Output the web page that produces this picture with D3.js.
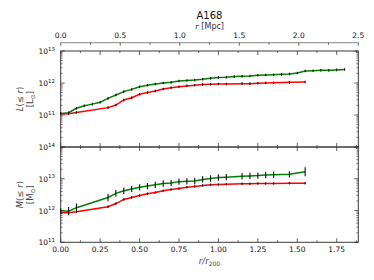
<!DOCTYPE html>
<html>
<head>
<meta charset="utf-8">
<script src="https://cdn.jsdelivr.net/npm/d3@7"></script>
<style>
  body { margin: 0; background: #fff; }
  text { font-family: "DejaVu Sans", sans-serif; }
</style>
</head>
<body>
<div id="chart"></div>
<script>
// radii (r / r200) of the profile points
const rGreenTop = [0, 0.05, 0.1, 0.15, 0.2, 0.25, 0.3, 0.35, 0.4, 0.45, 0.5, 0.55, 0.6, 0.65, 0.7, 0.75, 0.8, 0.85,
    0.9, 0.95, 1.0, 1.05, 1.1, 1.15, 1.2, 1.25, 1.3, 1.35, 1.4, 1.45, 1.5, 1.55, 1.6, 1.65, 1.7, 1.75, 1.8]
const rShort = [0, 0.05, 0.1, 0.3, 0.35, 0.4, 0.45, 0.5, 0.55, 0.6, 0.65, 0.7, 0.75, 0.8, 0.85, 0.9, 0.95, 1.0,
    1.05, 1.15, 1.2, 1.25, 1.3, 1.35, 1.45, 1.55]

// log10 L(<= r) [Lsun]
const greenLumLog = [11.05, 11.07, 11.21, 11.29, 11.34, 11.40, 11.52, 11.625, 11.73, 11.80, 11.88, 11.93, 11.97,
    12.00, 12.02, 12.06, 12.08, 12.09, 12.115, 12.147, 12.17, 12.18, 12.20, 12.21, 12.22, 12.24, 12.25, 12.26,
    12.27, 12.28, 12.31, 12.375, 12.385, 12.395, 12.395, 12.41, 12.42]
const redLumLog = [11.03, 11.04, 11.08, 11.23, 11.31, 11.47, 11.54, 11.65, 11.70, 11.75, 11.81, 11.85, 11.885,
    11.91, 11.93, 11.95, 11.96, 11.97, 11.97, 11.98, 11.98, 11.99, 12.0, 12.01, 12.02, 12.03]

// log10 M(<= r) [Msun]
const greenMassLog = [11.99, 11.98, 12.09, 12.41, 12.54, 12.62, 12.68, 12.73, 12.77, 12.81, 12.85, 12.87, 12.91,
    12.92, 12.93, 12.98, 13.01, 13.04, 13.05, 13.08, 13.09, 13.10, 13.12, 13.13, 13.14, 13.22]
const redMassLog = [11.93, 11.93, 11.96, 12.12, 12.22, 12.35, 12.41, 12.47, 12.53, 12.57, 12.62, 12.66, 12.69,
    12.73, 12.76, 12.79, 12.81, 12.82, 12.83, 12.84, 12.84, 12.85, 12.85, 12.85, 12.86, 12.86]

// errors in dex
const greenMassErr = [0.08, 0.13, 0.13, 0.12, 0.11, 0.1, 0.1, 0.1, 0.1, 0.1, 0.1, 0.1, 0.1, 0.1, 0.1, 0.1, 0.1,
    0.1, 0.1, 0.1, 0.1, 0.1, 0.1, 0.1, 0.1, 0.14]
const redMassErr = 0.04
const lumErr = 0.04

const xTicks = [0, 0.25, 0.5, 0.75, 1.0, 1.25, 1.5, 1.75]
const mpcTicks = [0, 0.5, 1.0, 1.5, 2.0, 2.5]
const lumTicks = [11, 12, 13]
const massTicks = [11, 12, 13, 14]

const width = 374, height = 280
const left = 60.7, right = 358.3
const topY0 = 51, topY1 = 147, botY0 = 147, botY1 = 242.3

const svg = d3.select("#chart").append("svg")
    .attr("width", width)
    .attr("height", height)

const x = d3.scaleLinear().domain([0, 1.887]).range([left, right])
const xMpc = d3.scaleLinear().domain([0, 2.5]).range([left, right])
const yLum = d3.scaleLinear().domain([10, 13]).range([topY1, topY0])
const yMass = d3.scaleLinear().domain([11, 14]).range([botY1, botY0])

const axisColor = "#3a3a3a"

function panelFrame(y, y0, y1, majors, showTop) {
    const g = svg.append("g")
    // y ticks, log minor
    for (let dec = y.domain()[0]; dec <= y.domain()[1]; dec++) {
        const yy = y(dec)
        ;[[left, 1], [right, -1]].forEach(([sx, dir]) => {
            g.append("line").attr("x1", sx).attr("x2", sx + dir * 4)
                .attr("y1", yy).attr("y2", yy).attr("stroke", axisColor).attr("stroke-width", 0.8)
        })
        if (dec < y.domain()[1]) {
            for (let m = 2; m <= 9; m++) {
                const ym = y(dec + Math.log10(m))
                ;[[left, 1], [right, -1]].forEach(([sx, dir]) => {
                    g.append("line").attr("x1", sx).attr("x2", sx + dir * 2)
                        .attr("y1", ym).attr("y2", ym).attr("stroke", axisColor).attr("stroke-width", 0.6)
                })
            }
        }
    }
    // x ticks, inward on both spines
    d3.range(0, 1.88, 0.125).forEach((v, i) => {
        const len = i % 2 === 0 ? 4 : 2
        const xx = x(v)
        g.append("line").attr("x1", xx).attr("x2", xx).attr("y1", y1).attr("y2", y1 - len)
            .attr("stroke", axisColor).attr("stroke-width", 0.8)
        g.append("line").attr("x1", xx).attr("x2", xx).attr("y1", y0).attr("y2", y0 + len)
            .attr("stroke", axisColor).attr("stroke-width", 0.8)
    })
    g.append("rect").attr("x", left).attr("y", y0).attr("width", right - left).attr("height", y1 - y0)
        .attr("fill", "none").attr("stroke", axisColor).attr("stroke-width", 1)
    // y tick labels
    majors.forEach(d => {
        if (d === y.domain()[1] && !showTop) return
        const t = g.append("text").attr("x", 55).attr("y", y(d) + 3)
            .attr("text-anchor", "end").attr("font-size", 7.5).attr("fill", "#111")
        t.append("tspan").text("10")
        t.append("tspan").attr("dy", -3.5).attr("font-size", 5.5).text(d)
    })
}

panelFrame(yLum, topY0, topY1, lumTicks, true)
panelFrame(yMass, botY0, botY1, massTicks, true)

// bottom x labels
svg.append("g").selectAll("text").data(xTicks).enter().append("text")
    .attr("x", d => x(d)).attr("y", 252)
    .attr("text-anchor", "middle").attr("font-size", 7.5).attr("fill", "#111")
    .text(d => d.toFixed(2))

// top Mpc axis
const topAxis = svg.append("g")
topAxis.append("line").attr("x1", left).attr("x2", right).attr("y1", 42.7).attr("y2", 42.7)
    .attr("stroke", "#888").attr("stroke-width", 1)
d3.range(0, 2.51, 0.25).forEach((v, i) => {
    topAxis.append("line").attr("x1", xMpc(v)).attr("x2", xMpc(v))
        .attr("y1", 42.7).attr("y2", 42.7 + (i % 2 === 0 ? 3 : 2))
        .attr("stroke", axisColor).attr("stroke-width", 0.8)
})
topAxis.selectAll("text").data(mpcTicks).enter().append("text")
    .attr("x", d => xMpc(d)).attr("y", 38)
    .attr("text-anchor", "middle").attr("font-size", 7.5).attr("fill", "#111")
    .text(d => d.toFixed(1))

const mid = (left + right) / 2
svg.append("text").attr("x", mid).attr("y", 19).attr("text-anchor", "middle")
    .attr("font-size", 10).attr("fill", "#111").text("A168")
const mpcLabel = svg.append("text").attr("x", mid).attr("y", 29).attr("text-anchor", "middle")
    .attr("font-size", 8).attr("fill", "#333")
mpcLabel.append("tspan").attr("font-family", "DejaVu Serif").attr("font-style", "italic").text("r")
mpcLabel.append("tspan").text(" [Mpc]")

// bottom x label r/r200
const xl = svg.append("text").attr("x", mid).attr("y", 264).attr("text-anchor", "middle")
    .attr("font-size", 8.5).attr("fill", "#444").attr("font-family", "DejaVu Serif").attr("font-style", "italic")
xl.append("tspan").text("r/r")
xl.append("tspan").attr("dy", 2).attr("font-size", 6).attr("font-style", "normal").text("200")

// y labels
function yLabel(cy, sym, unit) {
    const g = svg.append("g").attr("transform", `translate(0,${cy}) rotate(-90)`)
    const t1 = g.append("text").attr("x", 0).attr("y", 23).attr("text-anchor", "middle")
        .attr("font-size", 8.5).attr("fill", "#444").attr("font-family", "DejaVu Serif")
    t1.append("tspan").attr("font-style", "italic").text(sym)
    t1.append("tspan").text("(≤ ")
    t1.append("tspan").attr("font-style", "italic").text("r")
    t1.append("tspan").text(")")
    const t2 = g.append("text").attr("x", 0).attr("y", 33).attr("text-anchor", "middle")
        .attr("font-size", 8.5).attr("fill", "#444").attr("font-family", "DejaVu Sans")
    t2.append("tspan").text("[" + unit)
    t2.append("tspan").attr("dy", 2).attr("font-size", 6).text("⊙")
    t2.append("tspan").attr("dy", -2).text("]")
}
yLabel((topY0 + topY1) / 2, "L", "L")
yLabel((botY0 + botY1) / 2, "M", "M")

// data series
function series(rs, vals, errs, y, color) {
    const pts = rs.map((r, i) => ({
        r,
        v: vals[i],
        e: Array.isArray(errs) ? errs[i] : errs
    }))
    const line = d3.line().x(d => x(d.r)).y(d => y(d.v))
    svg.append("path").datum(pts).attr("d", line)
        .attr("fill", "none").attr("stroke", color).attr("stroke-width", 1.5)
    svg.append("g").selectAll("line").data(pts).enter().append("line")
        .attr("x1", d => x(d.r)).attr("x2", d => x(d.r))
        .attr("y1", d => y(d.v - d.e)).attr("y2", d => y(d.v + d.e))
        .attr("stroke", "#111").attr("stroke-width", 1.1)
}

series(rGreenTop, greenLumLog, lumErr, yLum, "#008000")
series(rShort, redLumLog, lumErr, yLum, "#ff0000")
series(rShort, greenMassLog, greenMassErr, yMass, "#008000")
series(rShort, redMassLog, redMassErr, yMass, "#ff0000")
</script>
</body>
</html>
